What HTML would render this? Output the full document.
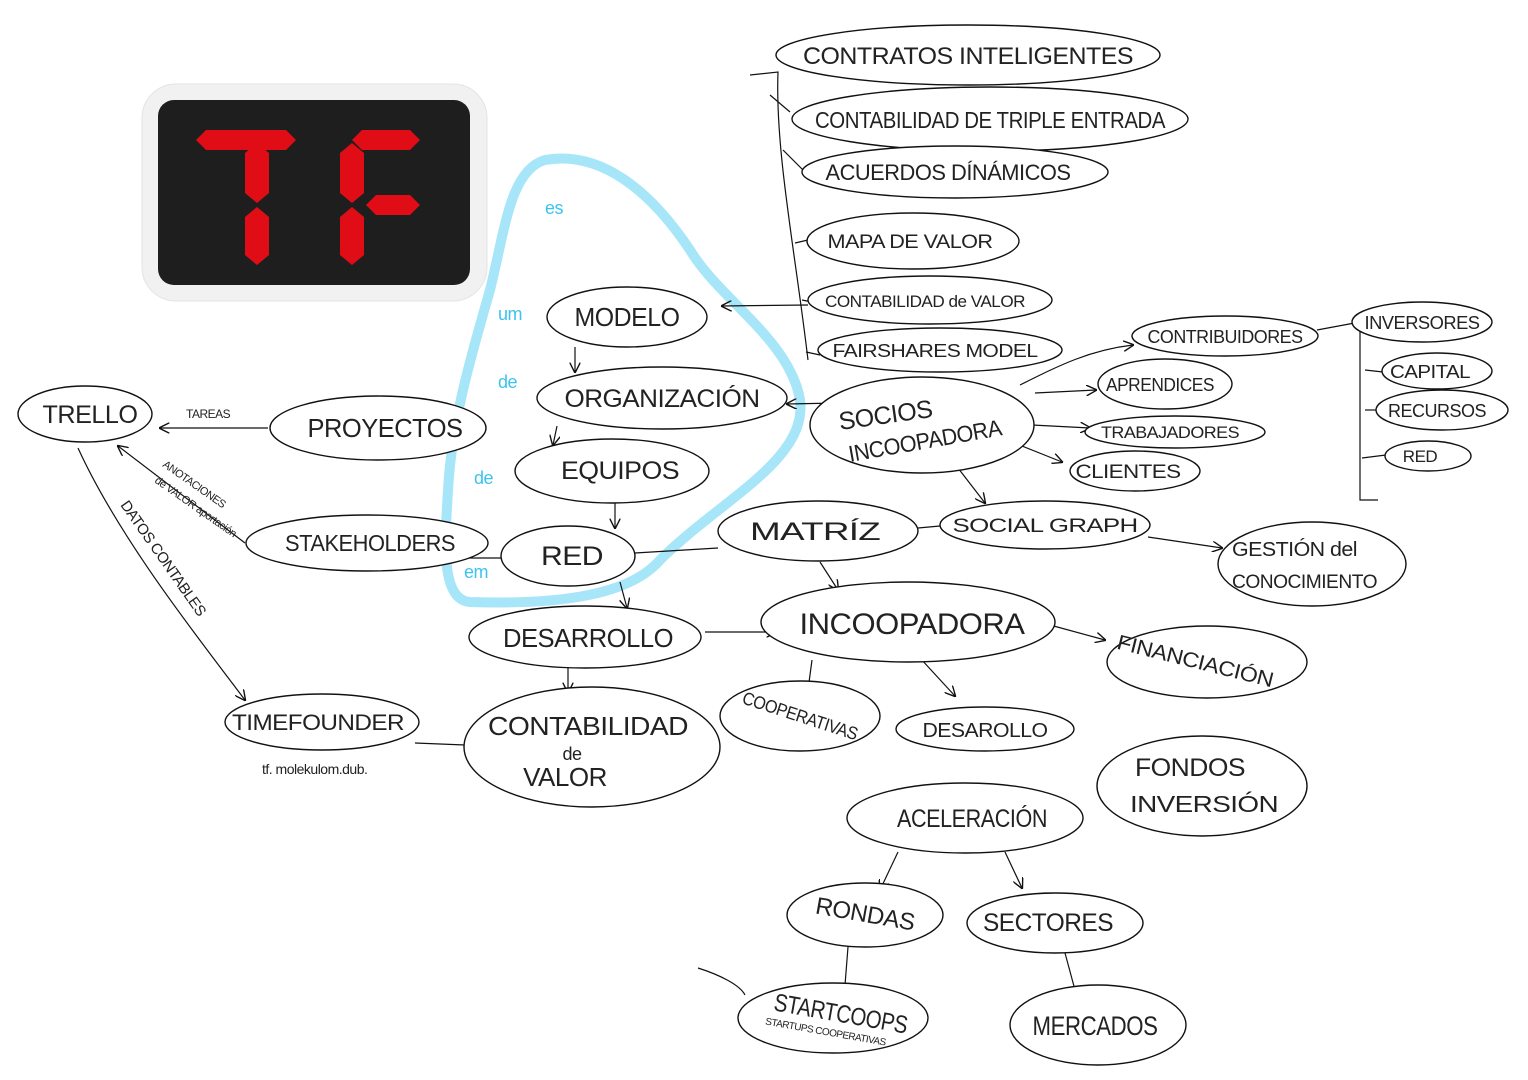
<!DOCTYPE html>
<html><head><meta charset="utf-8">
<style>
html,body{margin:0;padding:0;background:#fff;}
svg{display:block;}
text{font-family:"Liberation Sans",sans-serif;fill:#222;letter-spacing:-0.5px;}
.n ellipse{fill:#fff;stroke:#111;stroke-width:1.4;}
.l{stroke:#111;stroke-width:1.2;fill:none;}
</style></head>
<body>
<svg width="1528" height="1080" viewBox="0 0 1528 1080">
<defs>
<marker id="ar" viewBox="0 0 10 10" refX="9" refY="5" markerWidth="9" markerHeight="9" orient="auto"><path d="M0,0 L10,5 L0,10" fill="none" stroke="#111" stroke-width="1.3"/></marker>
</defs>

<g>
<rect x="142" y="84" width="345" height="217" rx="34" fill="#f1f1f1" stroke="#e3e3e3"/>
<rect x="158" y="100" width="312" height="185" rx="16" fill="#1e1e1e"/>
<g fill="#e00d17">
<polygon points="196,140 206,130 286,130 296,140 286,150 206,150"/>
<polygon points="245,153 257,143 269,153 269,193 257,203 245,193"/>
<polygon points="245,217 257,207 269,217 269,255 257,265 245,255"/>
<polygon points="352,140 362,130 410,130 420,140 410,150 362,150"/>
<polygon points="340,153 352,143 364,153 364,193 352,203 340,193"/>
<polygon points="340,217 352,207 364,217 364,255 352,265 340,255"/>
<polygon points="366,205 376,195 410,195 420,205 410,215 376,215"/>
</g>
</g>

<path d="M545,160 C600,150 650,190 690,250 C720,300 790,340 800,400 C808,460 720,500 660,560 C630,595 560,605 470,602 C440,600 445,540 448,490 C452,420 470,360 490,290 C505,230 510,170 545,160 Z" fill="none" stroke="#a7e6f8" stroke-width="10"/>
<g font-size="18">
<text x="545" y="214" style="fill:#3cc3ee">es</text>
<text x="498" y="320" style="fill:#3cc3ee">um</text>
<text x="498" y="388" style="fill:#3cc3ee">de</text>
<text x="474" y="484" style="fill:#3cc3ee">de</text>
<text x="464" y="578" style="fill:#3cc3ee">em</text>
</g>

<g class="l">
<path d="M750,75 L778,72 C775,150 795,250 808,360"/>
<path d="M770,95 L790,112"/><path d="M783,150 L803,170"/><path d="M795,243 L808,240"/><path d="M802,300 L812,302"/><path d="M806,352 L820,355"/>
<path d="M808,305 L722,306" marker-end="url(#ar)"/>
<path d="M575,347 L575,372" marker-end="url(#ar)"/>
<path d="M557,426 L553,445" marker-end="url(#ar)"/>
<path d="M615,503 L615,528" marker-end="url(#ar)"/>
<path d="M620,582 L627,608" marker-end="url(#ar)"/>
<path d="M838,403 L787,404" marker-end="url(#ar)"/>
<path d="M268,428 L160,428" marker-end="url(#ar)"/>
<path d="M245,543 L118,446" marker-end="url(#ar)"/>
<path d="M78,448 C120,540 200,640 245,700" marker-end="url(#ar)"/>
<path d="M415,743 L465,745"/>
<path d="M502,558 L440,558" marker-end="url(#ar)"/>
<path d="M635,553 L718,548"/>
<path d="M568,668 L568,692" marker-end="url(#ar)"/>
<path d="M705,632 L776,632" marker-end="url(#ar)"/>
<path d="M918,528 L940,526"/>
<path d="M1148,537 L1222,548" marker-end="url(#ar)"/>
<path d="M820,562 L838,590" marker-end="url(#ar)"/>
<path d="M958,468 L985,503" marker-end="url(#ar)"/>
<path d="M1020,385 C1060,365 1090,350 1133,345" marker-end="url(#ar)"/>
<path d="M1035,393 L1096,390" marker-end="url(#ar)"/>
<path d="M1032,425 L1090,428" marker-end="url(#ar)"/>
<path d="M1012,442 L1062,462" marker-end="url(#ar)"/>
<path d="M1317,330 L1360,322"/>
<path d="M1360,315 L1360,500 L1378,500"/>
<path d="M1365,370 L1383,372"/><path d="M1365,410 L1380,410"/><path d="M1362,458 L1386,455"/>
<path d="M1050,625 L1105,640" marker-end="url(#ar)"/>
<path d="M812,660 L808,690"/>
<path d="M920,658 L955,696" marker-end="url(#ar)"/>
<path d="M898,852 L880,890" marker-end="url(#ar)"/>
<path d="M1005,852 L1022,888" marker-end="url(#ar)"/>
<path d="M848,947 L845,985"/>
<path d="M1065,953 L1075,990"/>
<path d="M698,968 C720,975 740,985 745,995"/>
</g>

<g class="n" font-size="22">
<g><ellipse cx="968" cy="55" rx="192" ry="30"/><text x="968" y="64" text-anchor="middle" font-size="24" textLength="330" lengthAdjust="spacingAndGlyphs">CONTRATOS INTELIGENTES</text></g>
<g><ellipse cx="990" cy="119" rx="198" ry="32"/><text x="990" y="128" text-anchor="middle" font-size="23" textLength="350" lengthAdjust="spacingAndGlyphs">CONTABILIDAD DE TRIPLE ENTRADA</text></g>
<g><ellipse cx="955" cy="172" rx="153" ry="26"/><text x="948" y="180" text-anchor="middle" font-size="22" textLength="245" lengthAdjust="spacingAndGlyphs">ACUERDOS  DÍNÁMICOS</text></g>
<g><ellipse cx="913" cy="241" rx="106" ry="28"/><text x="910" y="248" text-anchor="middle" font-size="19" textLength="165" lengthAdjust="spacingAndGlyphs">MAPA DE VALOR</text></g>
<g><ellipse cx="930" cy="300" rx="122" ry="24"/><text x="925" y="307" text-anchor="middle" font-size="17" textLength="200" lengthAdjust="spacingAndGlyphs">CONTABILIDAD de VALOR</text></g>
<g><ellipse cx="940" cy="350" rx="122" ry="22"/><text x="935" y="357" text-anchor="middle" font-size="18" textLength="205" lengthAdjust="spacingAndGlyphs">FAIRSHARES MODEL</text></g>
<g><ellipse cx="627" cy="317" rx="80" ry="30"/><text x="627" y="326" text-anchor="middle" font-size="26" textLength="105" lengthAdjust="spacingAndGlyphs">MODELO</text></g>
<g><ellipse cx="662" cy="398" rx="125" ry="31"/><text x="662" y="407" text-anchor="middle" font-size="25" textLength="195" lengthAdjust="spacingAndGlyphs">ORGANIZACIÓN</text></g>
<g><ellipse cx="612" cy="471" rx="97" ry="32"/><text x="620" y="479" text-anchor="middle" font-size="25" textLength="118" lengthAdjust="spacingAndGlyphs">EQUIPOS</text></g>
<g><ellipse cx="568" cy="556" rx="67" ry="30"/><text x="572" y="565" text-anchor="middle" font-size="27" textLength="62" lengthAdjust="spacingAndGlyphs">RED</text></g>
<g><ellipse cx="585" cy="637" rx="116" ry="31"/><text x="588" y="647" text-anchor="middle" font-size="26" textLength="170" lengthAdjust="spacingAndGlyphs">DESARROLLO</text></g>
<g><ellipse cx="592" cy="747" rx="128" ry="60"/><text x="588" y="735" text-anchor="middle" font-size="26" textLength="200" lengthAdjust="spacingAndGlyphs">CONTABILIDAD</text><text x="572" y="760" text-anchor="middle" font-size="18">de</text><text x="565" y="786" text-anchor="middle" font-size="26">VALOR</text></g>
<g><ellipse cx="322" cy="722" rx="97" ry="28"/><text x="318" y="730" text-anchor="middle" font-size="22" textLength="172" lengthAdjust="spacingAndGlyphs">TIMEFOUNDER</text></g>
<g><ellipse cx="85" cy="414" rx="67" ry="28"/><text x="90" y="423" text-anchor="middle" font-size="25" textLength="95" lengthAdjust="spacingAndGlyphs">TRELLO</text></g>
<g><ellipse cx="378" cy="428" rx="108" ry="32"/><text x="385" y="437" text-anchor="middle" font-size="26" textLength="155" lengthAdjust="spacingAndGlyphs">PROYECTOS</text></g>
<g><ellipse cx="367" cy="543" rx="121" ry="28"/><text x="370" y="551" text-anchor="middle" font-size="23" textLength="170" lengthAdjust="spacingAndGlyphs">STAKEHOLDERS</text></g>
<g><ellipse cx="922" cy="425" rx="112" ry="48"/><text x="840" y="430" font-size="25" transform="rotate(-8 840 430)">SOCIOS</text><text x="850" y="462" font-size="23" textLength="155" lengthAdjust="spacingAndGlyphs" transform="rotate(-10 850 462)">INCOOPADORA</text></g>
<g><ellipse cx="1225" cy="336" rx="93" ry="20"/><text x="1225" y="343" text-anchor="middle" font-size="18" textLength="155" lengthAdjust="spacingAndGlyphs">CONTRIBUIDORES</text></g>
<g><ellipse cx="1422" cy="322" rx="70" ry="20"/><text x="1422" y="329" text-anchor="middle" font-size="18" textLength="115" lengthAdjust="spacingAndGlyphs">INVERSORES</text></g>
<g><ellipse cx="1437" cy="371" rx="55" ry="18"/><text x="1430" y="378" text-anchor="middle" font-size="18" textLength="80" lengthAdjust="spacingAndGlyphs">CAPITAL</text></g>
<g><ellipse cx="1442" cy="410" rx="66" ry="20"/><text x="1437" y="417" text-anchor="middle" font-size="18" textLength="98" lengthAdjust="spacingAndGlyphs">RECURSOS</text></g>
<g><ellipse cx="1428" cy="456" rx="43" ry="15"/><text x="1420" y="462" text-anchor="middle" font-size="17">RED</text></g>
<g><ellipse cx="1165" cy="384" rx="67" ry="25"/><text x="1160" y="391" text-anchor="middle" font-size="18" textLength="108" lengthAdjust="spacingAndGlyphs">APRENDICES</text></g>
<g><ellipse cx="1175" cy="432" rx="90" ry="16"/><text x="1170" y="438" text-anchor="middle" font-size="17" textLength="138" lengthAdjust="spacingAndGlyphs">TRABAJADORES</text></g>
<g><ellipse cx="1135" cy="471" rx="65" ry="20"/><text x="1128" y="478" text-anchor="middle" font-size="19" textLength="105" lengthAdjust="spacingAndGlyphs">CLIENTES</text></g>
<g><ellipse cx="818" cy="531" rx="100" ry="30"/><text x="815" y="540" text-anchor="middle" font-size="25" textLength="130" lengthAdjust="spacingAndGlyphs">MATRÍZ</text></g>
<g><ellipse cx="1045" cy="525" rx="105" ry="24"/><text x="1045" y="532" text-anchor="middle" font-size="19" textLength="185" lengthAdjust="spacingAndGlyphs">SOCIAL GRAPH</text></g>
<g><ellipse cx="1312" cy="564" rx="94" ry="42"/><text x="1232" y="556" font-size="20" textLength="125" lengthAdjust="spacingAndGlyphs">GESTIÓN del</text><text x="1232" y="588" font-size="19" textLength="145" lengthAdjust="spacingAndGlyphs">CONOCIMIENTO</text></g>
<g><ellipse cx="908" cy="622" rx="147" ry="40"/><text x="912" y="634" text-anchor="middle" font-size="30" textLength="225" lengthAdjust="spacingAndGlyphs">INCOOPADORA</text></g>
<g><ellipse cx="1207" cy="662" rx="100" ry="36"/><text x="1195" y="668" text-anchor="middle" font-size="21" textLength="160" lengthAdjust="spacingAndGlyphs" transform="rotate(14 1195 662)">FINANCIACIÓN</text></g>
<g><ellipse cx="800" cy="716" rx="80" ry="35"/><text x="800" y="722" text-anchor="middle" font-size="18" textLength="120" lengthAdjust="spacingAndGlyphs" transform="rotate(18 800 716)">COOPERATIVAS</text></g>
<g><ellipse cx="985" cy="729" rx="89" ry="22"/><text x="985" y="737" text-anchor="middle" font-size="20" textLength="125" lengthAdjust="spacingAndGlyphs">DESAROLLO</text></g>
<g><ellipse cx="1202" cy="786" rx="105" ry="50"/><text x="1135" y="776" font-size="25" textLength="110" lengthAdjust="spacingAndGlyphs">FONDOS</text><text x="1130" y="812" font-size="23" textLength="148" lengthAdjust="spacingAndGlyphs">INVERSIÓN</text></g>
<g><ellipse cx="965" cy="818" rx="118" ry="35"/><text x="972" y="827" text-anchor="middle" font-size="25" textLength="150" lengthAdjust="spacingAndGlyphs">ACELERACIÓN</text></g>
<g><ellipse cx="865" cy="915" rx="78" ry="32"/><text x="865" y="922" text-anchor="middle" font-size="24" textLength="100" lengthAdjust="spacingAndGlyphs" transform="rotate(10 865 915)">RONDAS</text></g>
<g><ellipse cx="1055" cy="923" rx="88" ry="30"/><text x="1048" y="931" text-anchor="middle" font-size="25" textLength="130" lengthAdjust="spacingAndGlyphs">SECTORES</text></g>
<g><ellipse cx="833" cy="1018" rx="95" ry="35"/><text x="840" y="1022" text-anchor="middle" font-size="25" textLength="135" lengthAdjust="spacingAndGlyphs" transform="rotate(10 840 1018)">STARTCOOPS</text><text x="825" y="1035" text-anchor="middle" font-size="10" transform="rotate(10 825 1035)">STARTUPS COOPERATIVAS</text></g>
<g><ellipse cx="1098" cy="1025" rx="88" ry="40"/><text x="1095" y="1035" text-anchor="middle" font-size="27" textLength="125" lengthAdjust="spacingAndGlyphs">MERCADOS</text></g>
</g>

<g>
<text x="186" y="418" font-size="12">TAREAS</text>
<text x="162" y="466" font-size="11" transform="rotate(35 162 466)">ANOTACIONES</text>
<text x="154" y="482" font-size="11" transform="rotate(35 154 482)">de VALOR aportación</text>
<text x="120" y="505" font-size="15" transform="rotate(55 120 505)">DATOS CONTABLES</text>
<text x="262" y="774" font-size="14">tf. molekulom.dub.</text>
</g>
</svg>
</body></html>
